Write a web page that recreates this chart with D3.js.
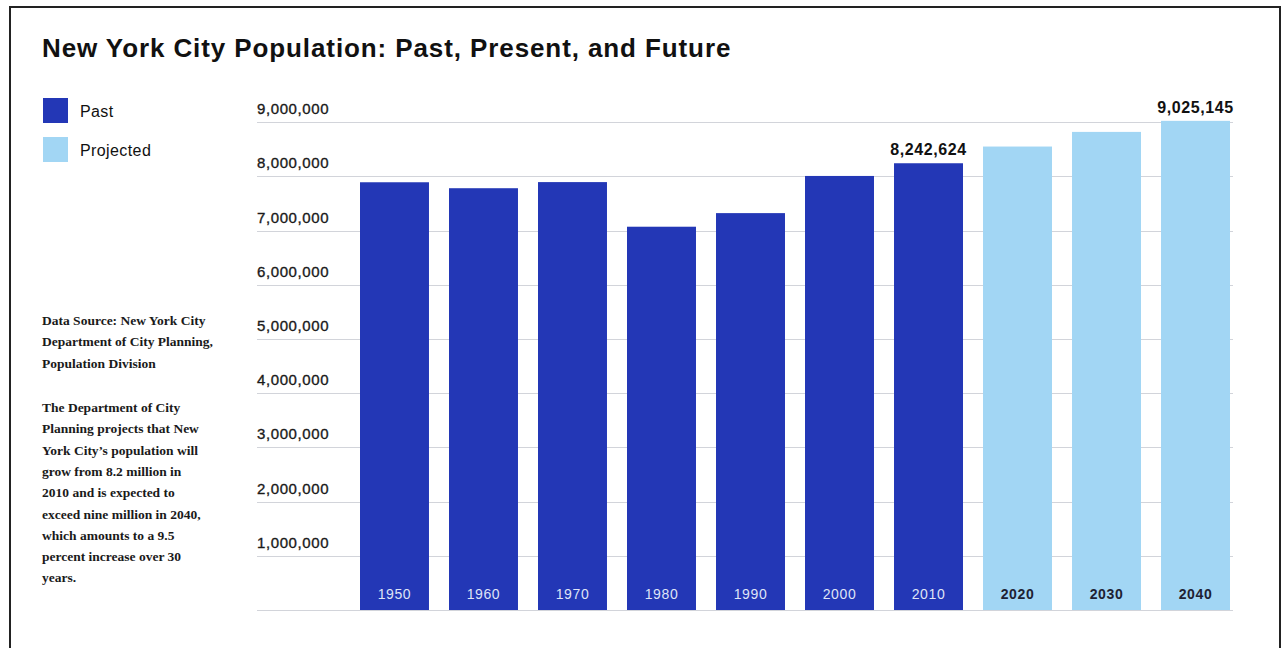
<!DOCTYPE html>
<html>
<head>
<meta charset="utf-8">
<script src="https://cdn.jsdelivr.net/npm/d3@7"></script>
<style>
  html, body { margin: 0; padding: 0; background: #fff; }
  svg { display: block; }
</style>
</head>
<body>
<svg id="chart" width="1283" height="648"></svg>
<script>
// NYC population by decade (census counts, then City Planning projections)
const years = ["1950", "1960", "1970", "1980", "1990", "2000", "2010", "2020", "2030", "2040"];
const population = [7891957, 7781984, 7894862, 7071639, 7322564, 8008278, 8242624, 8550971, 8821027, 9025145];
const kinds = ["Past", "Past", "Past", "Past", "Past", "Past", "Past", "Projected", "Projected", "Projected"];
const yTicks = [1000000, 2000000, 3000000, 4000000, 5000000, 6000000, 7000000, 8000000, 9000000];
const labelledYears = ["2010", "2040"];
const legendItems = ["Past", "Projected"];
const sourceLines = ["Data Source: New York City", "Department of City Planning,", "Population Division"];
const noteLines = ["The Department of City", "Planning projects that New", "York City\u2019s population will",
  "grow from 8.2 million in", "2010 and is expected to", "exceed nine million in 2040,",
  "which amounts to a 9.5", "percent increase over 30", "years."];

const colors = { Past: "#2337b6", Projected: "#a2d6f4" };
const sans = "'Liberation Sans', Arial, Helvetica, sans-serif";
const serif = "'Liberation Serif', 'Times New Roman', serif";

const svg = d3.select("#chart");

// outer frame (open at the bottom edge of the page)
svg.append("path")
  .attr("d", "M10,650 L10,7 L1280,7 L1280,650")
  .attr("fill", "none").attr("stroke", "#222").attr("stroke-width", 2);

// title
svg.append("text")
  .attr("x", 42).attr("y", 57)
  .attr("font-family", sans).attr("font-weight", "bold").attr("font-size", 26)
  .attr("letter-spacing", 0.9)
  .attr("fill", "#111")
  .text("New York City Population: Past, Present, and Future");

// scales
const x = d3.scaleBand().domain(years).range([360, 1230]).paddingInner(0.225).paddingOuter(0);
const y = d3.scaleLinear().domain([0, 9000000]).range([610, 122.2]);

// gridlines and tick labels
const grid = svg.append("g");
grid.selectAll("line").data([0, ...yTicks]).join("line")
  .attr("x1", 257).attr("x2", 1233)
  .attr("y1", d => Math.round(y(d)) + 0.5).attr("y2", d => Math.round(y(d)) + 0.5)
  .attr("stroke", "#d2d4da").attr("stroke-width", 1);

const fmt = d3.format(",");
grid.selectAll("text").data(yTicks).join("text")
  .attr("x", 257).attr("y", d => y(d) - 8)
  .attr("font-family", sans).attr("font-size", 15).attr("letter-spacing", 0.6)
  .attr("fill", "#1a1a1a").attr("stroke", "#1a1a1a").attr("stroke-width", 0.35)
  .text(d => fmt(d));

// bars
const data = years.map((yr, i) => ({ year: yr, value: population[i], kind: kinds[i] }));
svg.append("g").selectAll("rect").data(data).join("rect")
  .attr("x", d => x(d.year)).attr("width", x.bandwidth())
  .attr("y", d => y(d.value)).attr("height", d => y(0) - y(d.value))
  .attr("fill", d => colors[d.kind]);

// year labels inside the bars
svg.append("g").selectAll("text").data(data).join("text")
  .attr("x", d => x(d.year) + x.bandwidth() / 2).attr("y", 599)
  .attr("text-anchor", "middle")
  .attr("font-family", sans).attr("font-size", 14).attr("letter-spacing", 0.6)
  .attr("font-weight", d => d.kind === "Past" ? "normal" : "bold")
  .attr("fill", d => d.kind === "Past" ? "#dfe4f7" : "#1d2233")
  .text(d => d.year);

// value callouts
svg.append("g").selectAll("text").data(data.filter(d => labelledYears.includes(d.year))).join("text")
  .attr("x", d => x(d.year) + x.bandwidth() / 2).attr("y", d => y(d.value) - 8)
  .attr("text-anchor", "middle")
  .attr("font-family", sans).attr("font-weight", "bold").attr("font-size", 16).attr("letter-spacing", 0.6)
  .attr("fill", "#111")
  .text(d => fmt(d.value));

// legend
const legend = svg.append("g").selectAll("g").data(legendItems).join("g")
  .attr("transform", (d, i) => `translate(43,${98 + i * 39})`);
legend.append("rect").attr("width", 25).attr("height", 25).attr("fill", d => colors[d]);
legend.append("text")
  .attr("x", 37).attr("y", 19)
  .attr("font-family", sans).attr("font-size", 16).attr("letter-spacing", 0.4)
  .attr("fill", "#111")
  .text(d => d);

// side notes
const notes = svg.append("g")
  .attr("font-family", serif).attr("font-size", 13.5).attr("font-weight", "bold")
  .attr("fill", "#1a1a1a");
notes.selectAll("text.src").data(sourceLines).join("text")
  .attr("class", "src")
  .attr("x", 42).attr("y", (d, i) => 325 + i * 21.3)
  .text(d => d);
notes.selectAll("text.note").data(noteLines).join("text")
  .attr("class", "note")
  .attr("x", 42).attr("y", (d, i) => 412 + i * 21.3)
  .text(d => d);
</script>
</body>
</html>
